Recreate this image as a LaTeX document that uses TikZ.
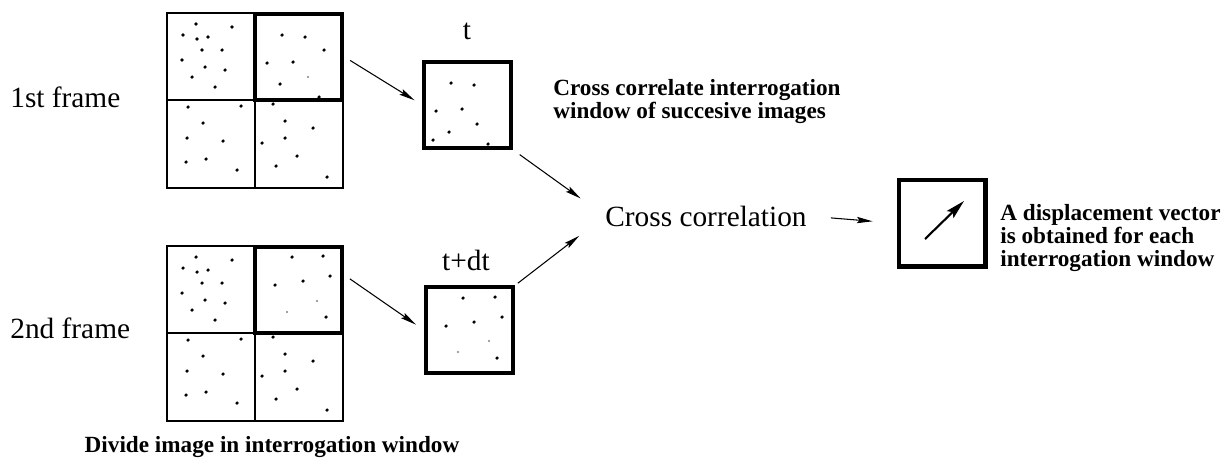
\documentclass[tikz,border=0pt]{standalone}
\usepackage{fontspec}
\setmainfont{Liberation Serif}
\usepackage{tikz}
\usetikzlibrary{arrows.meta}

\tikzset{
  cell/.style={draw, line width=0.7pt},
  window/.style={draw, line width=2.5pt, inner sep=0pt, minimum width=1.74cm, minimum height=1.72cm},
  flow/.style={-{Stealth[length=9pt,width=3.6pt,inset=1.5pt]}, line width=0.6pt},
  bigtext/.style={font=\fontsize{16.7}{19}\selectfont, inner sep=0pt},
  note/.style={font=\bfseries\fontsize{13.2}{13}\selectfont, align=left, inner sep=0pt},
}

\begin{document}
\begin{tikzpicture}[x=0.02cm, y=-0.02cm]
  \useasboundingbox (0,0) rectangle (1227,457);
  %% 1. Frames split in interrogation windows
  \foreach \dy in {0,233} {
    \draw[cell] (167,13+\dy) rectangle (343,188+\dy);
    \draw[cell] (255,13+\dy) -- (255,188+\dy);
    \draw[cell] (167,100+\dy) -- (343,100+\dy);
    % particles, same in three windows
    \foreach \x/\y in {196/24,232/27,183/35,197/39,208/37,202/50,222/50,182/60,205/67,225/70,192/77,215/87,
                       188/107,241/106,203/123,187/138,223/141,186/162,206/159,237/170,
                       273/104,285/121,313/128,262/143,285/138,297/156,276/166,327/177}
      \fill (\x,\y+\dy) circle (1pt);
  }
  \node[window] (w1) at (298.5,56.75) {};
  \node[window] (w2) at (298.5,289.75) {};
  \foreach \x/\y in {282/35,305/37,324/50,267/63,293/62,280/84,319/97}
    \fill (\x,\y) circle (1pt);
  \fill[gray] (308,77) circle (0.6pt);
  \foreach \x/\y in {292/257,323/256,330/276,275/285,303/281,326/317}
    \fill (\x,\y) circle (1pt);
  \fill[gray] (317,301) circle (0.6pt);
  \fill[gray] (287,312) circle (0.6pt);

  \node[bigtext, anchor=base west] (f1) at (10,107) {1st frame};
  \node[bigtext, anchor=base west] (f2) at (10,338) {2nd frame};
  \node[note, anchor=base] (divide) at (272,452) {Divide image in interrogation window};

  %% 2. Windows at t and t+dt
  \node[window] (wt) at (467.5,104.75) {};
  \node[window] (wdt) at (469.75,330.25) {};
  \foreach \x/\y in {451/83,474/85,436/111,462/109,477/124,449/132,433/140,488/144}
    \fill (\x,\y) circle (1pt);
  \foreach \x/\y in {463/298,495/297,502/317,446/326,474/322,497/358}
    \fill (\x,\y) circle (1pt);
  \fill[gray] (489,341) circle (0.6pt);
  \fill[gray] (458,352) circle (0.6pt);
  \node[bigtext, anchor=base] (tlab) at (467,39) {t};
  \node[bigtext, anchor=base] (tdtlab) at (466,270) {t+dt};
  \node[note, anchor=north west] (crossnote) at (553,79) {Cross correlate interrogation\\window of succesive images};

  %% 3. Correlation and result
  \node[bigtext, anchor=base west] (cc) at (605,226) {Cross correlation};
  \node[draw, line width=2.8pt, inner sep=0pt, minimum size=1.73cm] (disp) at (942.25,223.25) {};
  \draw[line width=1.2pt, -{Stealth[length=11pt,width=5.5pt,inset=2pt]}] (925,239) -- (964,201);
  \node[note, anchor=north west] (dispnote) at (1000,204) {A displacement vector\\is obtained for each\\interrogation window};

  %% 4. Arrows
  \draw[flow, shorten <=0.14cm, shorten >=0.17cm] (w1.east) -- (wt.west);
  \draw[flow, shorten <=0.14cm, shorten >=0.2cm] (w2.18) -- (wdt.west);
  \draw[flow, shorten <=0.16cm, shorten >=0.6cm] (wt.south east) -- (cc.west);
  \draw[flow, shorten <=0.06cm, shorten >=0.65cm] (wdt.north east) -- (cc.west);
  \draw[flow, shorten <=0.48cm, shorten >=0.48cm] (cc.east) -- (disp.west);
\end{tikzpicture}
\end{document}
